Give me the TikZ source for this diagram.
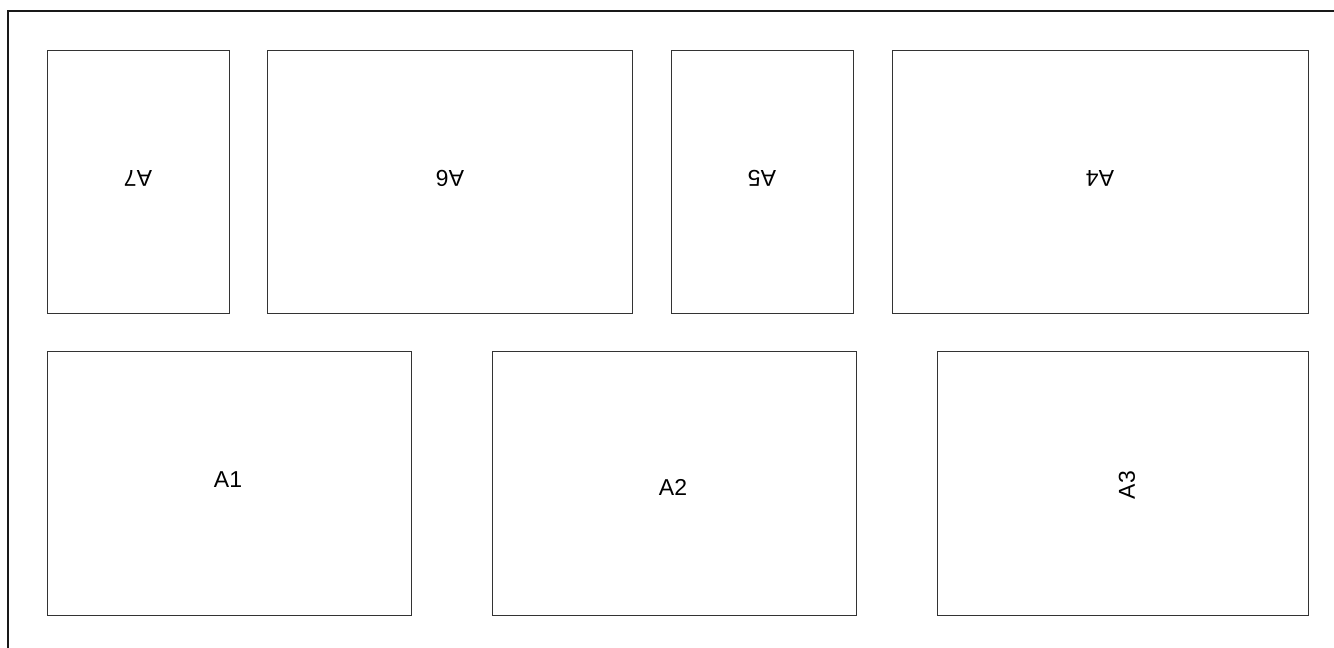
\documentclass[tikz,border=0pt]{standalone}
\usepackage{fontspec}
\setmainfont{Liberation Sans}
\begin{document}
\begin{tikzpicture}[x=1pt,y=-1pt,
  panel/.style={draw=black!80, line width=1pt},
  lbl/.style={font=\fontsize{23}{25}\selectfont, inner sep=0pt, anchor=center},
  frame/.style={draw=black!90, line width=2.6pt}]
\useasboundingbox (0,0) rectangle (1334,648);
\clip (0,0) rectangle (1334,648);
\draw[frame] (8,11) rectangle (1350,670);
% top row
\draw[panel] (47,50) rectangle (229,313);
\draw[panel] (267,50) rectangle (632,313);
\draw[panel] (671,50) rectangle (853,313);
\draw[panel] (892,50) rectangle (1308,313);
% bottom row
\draw[panel] (47,351) rectangle (411,615);
\draw[panel] (492,351) rectangle (856,615);
\draw[panel] (937,351) rectangle (1308,615);
% labels
\node[lbl, rotate=180] (a7) at (138,178) {A7};
\node[lbl, rotate=180] (a6) at (450,178) {A6};
\node[lbl, rotate=180] (a5) at (762,178) {A5};
\node[lbl, rotate=180] (a4) at (1100,178) {A4};
\node[lbl] (a1) at (228,480) {A1};
\node[lbl] (a2) at (673,487) {A2};
\node[lbl, rotate=90] (a3) at (1127,485) {A3};
\end{tikzpicture}
\end{document}
